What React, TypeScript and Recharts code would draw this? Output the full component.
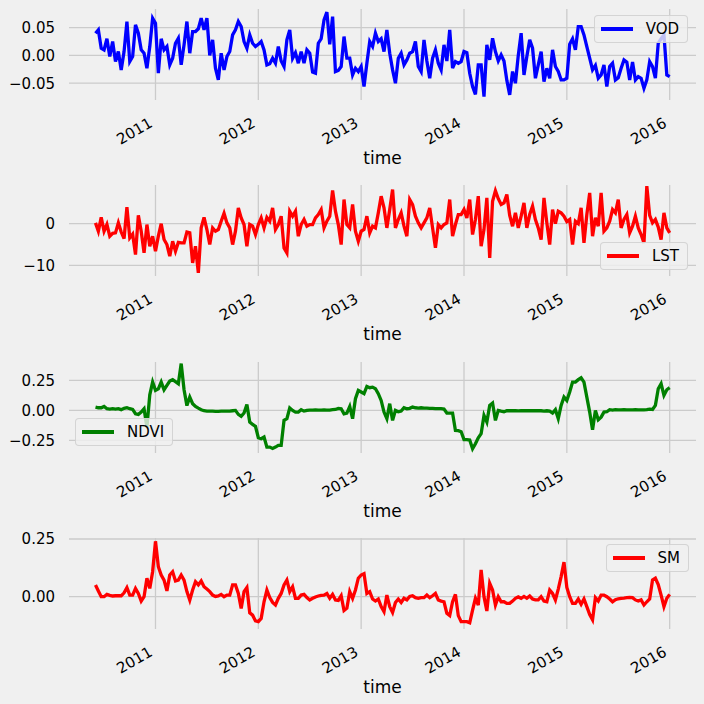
import { LineChart, Line, XAxis, YAxis, ReferenceLine } from 'recharts'

// 36 samples per year, from June 2010 to the start of 2016
const T0 = 2010 + 15 / 36
const STEP = 1 / 36
const YEARS = [2011, 2012, 2013, 2014, 2015, 2016]

const VOD = [
  0.040, 0.046, 0.013, 0.010, 0.030, -0.002, 0.025, -0.011, 0.007, -0.026,
  0.007, 0.061, -0.011, -0.002, 0.055, 0.040, 0.010, 0.004, -0.023, 0.016,
  0.067, 0.058, -0.032, 0.030, 0.010, 0.016, -0.017, -0.005, 0.022, 0.031,
  -0.017, 0.019, 0.061, 0.004, 0.043, 0.043, 0.048, 0.067, 0.046, 0.067,
  0.000, 0.028, -0.023, -0.044, 0.004, -0.026, -0.002, 0.007, 0.037, 0.046,
  0.061, 0.052, 0.025, 0.013, 0.037, 0.022, 0.016, 0.020, 0.025, 0.010,
  -0.017, -0.015, -0.005, -0.014, 0.016, -0.010, -0.020, 0.028, 0.046, -0.005,
  0.005, -0.014, 0.007, -0.014, 0.010, 0.004, -0.030, -0.032, 0.022, 0.030,
  0.064, 0.078, 0.020, 0.070, -0.029, -0.027, -0.020, 0.034, -0.005, -0.005,
  -0.035, -0.023, -0.029, -0.020, -0.056, -0.014, 0.025, 0.016, 0.040, 0.025,
  0.030, 0.007, 0.046, 0.004, -0.026, -0.050, -0.005, 0.004, -0.017, -0.008,
  0.004, 0.007, 0.025, -0.020, -0.029, 0.028, -0.010, -0.041, -0.005, 0.010,
  -0.014, -0.026, 0.019, -0.010, 0.046, -0.023, -0.011, -0.014, -0.011, 0.007,
  0.005, -0.032, -0.056, -0.070, -0.017, -0.017, -0.074, 0.019, -0.008, 0.031,
  0.007, -0.010, 0.001, -0.010, -0.045, -0.071, -0.029, -0.050, 0.000, 0.040,
  -0.035, -0.002, 0.028, 0.013, -0.041, -0.017, 0.007, -0.047, -0.023, -0.041,
  0.010, -0.020, -0.029, -0.044, -0.044, -0.041, 0.020, 0.030, 0.010, 0.052,
  0.052, 0.037, 0.016, -0.005, -0.026, -0.018, -0.041, -0.035, -0.017, -0.056,
  -0.020, -0.014, -0.044, -0.040, -0.023, -0.008, -0.012, -0.044, -0.012, -0.044,
  -0.038, -0.041, -0.059, -0.044, -0.011, -0.020, -0.041, 0.022, 0.030, 0.037,
  -0.035, -0.038,
]

const LST = [
  0.2, -1.8, 1.5, -1.8, -0.2, -3.0, -2.3, -2.2, 0.2, -2.0,
  -3.6, 4.0, -3.4, -2.5, -7.4, 2.0, -1.8, -7.0, -0.2, -5.4,
  -3.0, -6.6, -3.0, 0.0, -3.8, -5.0, -7.8, -4.2, -6.6, -4.5,
  -4.6, -4.6, -2.0, -2.2, -9.4, -5.4, -11.8, -1.0, 1.5, -1.4,
  -5.0, -1.0, -1.8, -1.4, 0.6, 2.5, 0.2, -1.0, -5.0, -1.8,
  3.8, 1.4, -0.2, -5.4, -0.2, -0.6, -2.6, -0.2, 1.4, -1.0,
  1.5, 0.6, 3.8, -1.4, -0.2, 1.8, -5.8, -7.0, 3.0, 1.8,
  3.0, -3.0, -0.2, 1.0, -0.6, -0.2, -0.2, 1.4, 2.2, 3.4,
  -1.0, 0.6, 1.8, 8.0, 3.0, -0.2, -5.0, 5.8, -0.2, -1.0,
  4.6, -1.8, -4.2, -1.8, -1.4, 1.8, -2.2, -0.6, -1.0, 2.6,
  6.6, 3.8, -1.0, 3.4, 8.2, -1.0, 1.0, 2.6, -0.6, -3.0,
  5.8, 4.6, 1.8, 0.2, -1.0, 0.2, 1.4, 3.8, -1.0, -5.8,
  -0.2, -1.0, -0.2, 0.2, 5.8, -3.0, -0.2, 2.2, 2.2, 3.4,
  1.4, 5.8, -2.6, 1.0, 6.6, -5.4, -1.4, 6.2, -8.2, 5.4,
  7.9, 6.0, 4.6, 5.0, 7.0, 2.0, -0.6, 2.6, -1.0, 1.8,
  5.0, -1.0, 2.2, 4.2, 1.0, -1.0, -3.8, 6.2, 0.2, -5.0,
  3.4, 0.0, 3.0, 2.6, 1.8, 0.5, 1.0, -5.0, 0.6, 0.0,
  3.8, -4.6, 2.2, 7.4, -3.0, 1.4, -0.6, 7.4, -1.8, -1.0,
  0.6, 3.4, 2.6, 5.8, -1.0, 1.0, 2.2, -2.2, -0.6, 1.8,
  -1.0, -2.6, -4.6, 9.0, 2.0, 0.2, 1.0, -0.8, -3.8, 2.6,
  -1.0, -2.2,
]

const NDVI = [
  0.028, 0.022, 0.022, 0.033, 0.014, 0.011, 0.014, 0.011, 0.014, 0.006,
  0.017, 0.022, 0.014, 0.008, -0.028, -0.033, -0.014, 0.014, -0.140, 0.130,
  0.236, 0.167, 0.180, 0.236, 0.172, 0.208, 0.244, 0.256, 0.239, 0.222,
  0.390, 0.172, 0.040, 0.111, 0.056, 0.033, 0.019, 0.006, -0.003, -0.006,
  -0.006, -0.006, -0.008, -0.008, -0.006, -0.006, -0.006, -0.006, -0.003, 0.000,
  -0.033, -0.050, -0.022, 0.050, -0.097, -0.117, -0.133, -0.228, -0.236, -0.222,
  -0.306, -0.306, -0.317, -0.306, -0.292, -0.292, -0.083, -0.069, 0.020, 0.000,
  -0.014, -0.014, 0.006, -0.006, 0.000, 0.003, 0.003, 0.004, 0.003, 0.003,
  0.004, 0.003, 0.003, 0.006, 0.008, 0.017, 0.014, -0.028, -0.022, 0.033,
  -0.069, 0.097, 0.167, 0.153, 0.139, 0.200, 0.189, 0.194, 0.181, 0.139,
  0.083, -0.014, -0.069, 0.056, -0.083, 0.000, -0.011, -0.006, 0.022, 0.014,
  0.017, 0.028, 0.022, 0.019, 0.022, 0.019, 0.019, 0.017, 0.017, 0.014,
  0.014, 0.014, 0.011, -0.022, -0.022, -0.022, -0.167, -0.169, -0.178, -0.244,
  -0.244, -0.247, -0.320, -0.278, -0.228, -0.194, -0.042, -0.097, 0.042, 0.061,
  -0.083, 0.000, -0.006, -0.011, -0.003, -0.003, -0.002, -0.003, -0.004, -0.003,
  -0.002, -0.003, -0.003, -0.002, -0.003, -0.003, -0.003, -0.006, -0.003, -0.006,
  -0.022, 0.006, -0.069, 0.042, 0.111, 0.083, 0.153, 0.236, 0.236, 0.256,
  0.272, 0.236, 0.111, -0.014, -0.161, 0.000, -0.078, -0.056, -0.014, -0.011,
  0.006, 0.003, 0.006, 0.005, 0.004, 0.006, 0.005, 0.004, 0.005, 0.006,
  0.005, 0.004, 0.005, 0.006, 0.011, 0.008, 0.042, 0.180, 0.222, 0.125,
  0.172, 0.189,
]

const SM = [
  0.051, 0.025, 0.000, 0.000, 0.010, 0.006, 0.003, 0.004, 0.004, 0.004,
  0.017, 0.039, 0.007, 0.007, 0.036, 0.014, -0.019, 0.000, 0.080, 0.036,
  0.108, 0.240, 0.130, 0.094, 0.072, 0.025, 0.094, 0.108, 0.068, 0.072,
  0.094, 0.072, 0.022, -0.015, 0.029, 0.065, 0.051, 0.068, 0.043, 0.033,
  0.022, 0.007, 0.001, 0.003, 0.010, 0.000, 0.007, 0.007, 0.051, 0.051,
  0.014, -0.051, 0.022, 0.040, -0.070, -0.080, -0.105, -0.108, -0.094, -0.022,
  0.029, -0.004, -0.025, -0.036, -0.007, 0.014, 0.051, 0.072, 0.022, 0.043,
  -0.007, -0.007, 0.007, 0.010, -0.004, -0.014, -0.007, -0.001, 0.003, 0.006,
  0.007, 0.014, -0.007, 0.010, -0.014, -0.016, 0.004, -0.060, -0.050, 0.022,
  -0.007, 0.029, 0.080, 0.094, 0.100, 0.014, 0.022, -0.010, -0.019, -0.010,
  -0.043, -0.065, 0.007, -0.043, -0.068, -0.025, -0.010, -0.025, -0.007, -0.014,
  0.001, 0.004, -0.004, -0.007, -0.004, -0.004, 0.007, -0.004, 0.004, 0.014,
  -0.014, -0.019, -0.022, -0.072, -0.082, -0.022, 0.010, -0.082, -0.108, -0.108,
  -0.108, -0.113, -0.058, -0.007, -0.036, 0.116, 0.000, -0.062, 0.058, 0.029,
  -0.036, 0.000, -0.022, -0.022, -0.029, -0.029, -0.019, -0.007, -0.001, -0.007,
  0.001, -0.007, 0.003, -0.010, -0.014, -0.014, 0.000, -0.019, -0.022, 0.029,
  0.014, -0.014, 0.033, 0.087, 0.150, 0.040, 0.000, -0.029, -0.029, -0.010,
  -0.033, -0.010, -0.043, -0.077, -0.100, -0.004, -0.019, 0.007, 0.007, 0.000,
  -0.010, -0.022, -0.013, -0.009, -0.007, -0.006, -0.004, -0.003, -0.004, -0.014,
  -0.019, -0.014, -0.036, -0.022, -0.010, 0.072, 0.080, 0.053, 0.007, -0.043,
  -0.007, 0.010,
]

const rows = VOD.map((v, i) => ({
  t: T0 + i * STEP,
  VOD: v,
  LST: LST[i],
  NDVI: NDVI[i],
  SM: SM[i],
}))

const FONT = '"DejaVu Sans", sans-serif'
const BG = '#f0f0f0'
const GRID = '#cbcbcb'
const X_DOMAIN = [2010.159, 2016.256]
const PLOT_H = 91
const PAD_TOP = 20
const AXIS_H = 70
const FS = 15

const PANELS = [
  { key: 'VOD', color: '#0000ff', top: 9.3, domain: [-0.0802, 0.0836], ticks: [-0.05, 0, 0.05], digits: 2, legend: { right: 16, top: 15 } },
  { key: 'LST', color: '#ff0000', top: 185.3, domain: [-12.55, 9.29], ticks: [-10, 0], digits: 0, legend: { right: 16, top: 242 } },
  { key: 'NDVI', color: '#008000', top: 361.6, domain: [-0.355, 0.4033], ticks: [-0.25, 0, 0.25], digits: 2, legend: { left: 75, top: 418 } },
  { key: 'SM', color: '#ff0000', top: 538, domain: [-0.14, 0.2543], ticks: [0, 0.25], digits: 2, legend: { right: 15, top: 544 } },
]

const fmt = (v: number, d: number) => (v < 0 ? '\u2212' : '') + Math.abs(v).toFixed(d)

function YearTick(props: any) {
  const { x, y, payload } = props
  const ax = x - 2
  const ay = y + 26
  return (
    <text
      x={ax}
      y={ay}
      transform={`rotate(-30 ${ax} ${ay})`}
      textAnchor="end"
      fontSize={FS}
      fontFamily={FONT}
      fill="#000"
    >
      {payload.value}
    </text>
  )
}

function LegendBox({ label, color, pos }: { label: string; color: string; pos: any }) {
  return (
    <div
      style={{
        position: 'absolute',
        ...pos,
        height: 28,
        boxSizing: 'border-box',
        display: 'flex',
        alignItems: 'center',
        padding: '0 8px 0 6px',
        background: 'rgba(240,240,240,0.8)',
        border: '1px solid rgba(204,204,204,0.8)',
        borderRadius: 4,
        fontFamily: FONT,
        fontSize: FS,
        color: '#000',
      }}
    >
      <span style={{ display: 'inline-block', width: 32, height: 3.3, background: color, marginRight: 13 }} />
      <span>{label}</span>
    </div>
  )
}

function Panel({ p }: { p: (typeof PANELS)[number] }) {
  const h = PAD_TOP + PLOT_H + AXIS_H
  const plotBottom = p.top + PLOT_H
  return (
    <>
      <div style={{ position: 'absolute', left: 0, top: p.top - PAD_TOP, width: 704, height: h }}>
        <LineChart width={704} height={h} data={rows} margin={{ top: PAD_TOP, right: 8, bottom: 0, left: 9 }}>
          <XAxis
            dataKey="t"
            type="number"
            domain={X_DOMAIN}
            ticks={YEARS}
            interval={0}
            allowDataOverflow
            axisLine={false}
            tickLine={false}
            tickSize={0}
            tickMargin={0}
            height={AXIS_H}
            tick={(props: any) => <YearTick {...props} />}
          />
          <YAxis
            type="number"
            domain={p.domain}
            ticks={p.ticks}
            interval={0}
            allowDataOverflow
            axisLine={false}
            tickLine={false}
            tickSize={0}
            tickMargin={14}
            width={60}
            tick={{ fontSize: FS, fill: '#000', fontFamily: FONT }}
            tickFormatter={(v: number) => fmt(v, p.digits)}
          />
          {YEARS.map((yr) => (
            <ReferenceLine key={'x' + yr} x={yr} stroke={GRID} strokeWidth={1.3} />
          ))}
          {p.ticks.map((tk) => (
            <ReferenceLine key={'y' + tk} y={tk} stroke={GRID} strokeWidth={1.3} />
          ))}
          <Line
            type="linear"
            dataKey={p.key}
            stroke={p.color}
            strokeWidth={3.3}
            dot={false}
            isAnimationActive={false}
          />
        </LineChart>
      </div>
      <div
        style={{
          position: 'absolute',
          left: 282.5,
          width: 200,
          top: plotBottom + 50,
          textAlign: 'center',
          fontFamily: FONT,
          fontSize: 17,
          lineHeight: '17px',
          color: '#000',
        }}
      >
        time
      </div>
      <LegendBox label={p.key} color={p.color} pos={p.legend} />
    </>
  )
}

export default function App() {
  return (
    <div style={{ position: 'absolute', left: 0, top: 0, width: 704, height: 704, background: BG, overflow: 'hidden' }}>
      {PANELS.map((p) => (
        <Panel key={p.key} p={p} />
      ))}
    </div>
  )
}
